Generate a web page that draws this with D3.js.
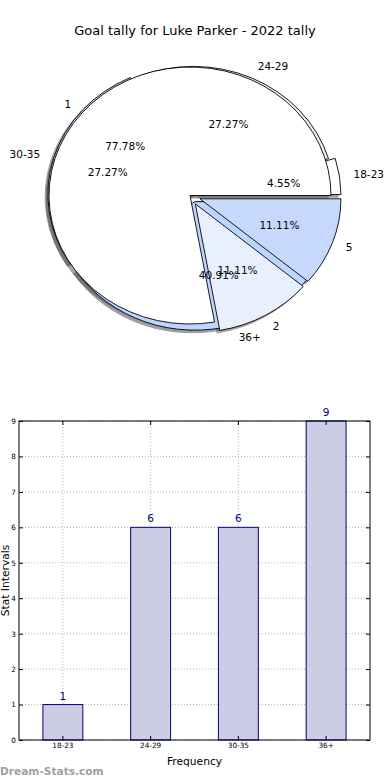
<!DOCTYPE html>
<html><head><meta charset="utf-8">
<script src="https://cdn.jsdelivr.net/npm/d3@7"></script>
<style>
body{margin:0;background:#fff}
svg{display:block}
text{font-family:"DejaVu Sans",sans-serif}
</style>
</head><body>
<svg id="c" width="390" height="780"></svg>
<script>
// ---------- data ----------
const chartTitle = "Goal tally for Luke Parker - 2022 tally";
const ageGroups = ["18-23", "24-29", "30-35", "36+"];
const ageCounts = [1, 6, 6, 9];
const goalLabels = ["1", "2", "5"];
const goalCounts = [7, 1, 1];
const ageExplode = [0.05, 0.005, 0.03, 0.05];
const goalExplode = [0, 0.075, 0.075];
const sliceColors = ["#ffffff", "#e9f0fd", "#c6d9fd", "#bcd6ff"];
const yTicks = [0, 1, 2, 3, 4, 5, 6, 7, 8, 9];
const xAxisLabel = "Frequency";
const yAxisLabel = "Stat Intervals";
const watermark = "Dream-Stats.com";

const svg = d3.select("#c");

// ---------- title ----------
svg.append("text").attr("x", 195).attr("y", 30).attr("dy", "0.35em")
  .attr("text-anchor", "middle").attr("font-size", 13).attr("fill", "#000")
  .text(chartTitle);

// ---------- pies ----------
const rx = 141, ry = 128.5;
const innerC = {x: 190, y: 195.5};
const outerC = {x: 193, y: 195.5};
const pieGen = d3.pie().sort(null).value(d => d)
  .startAngle(Math.PI / 2).endAngle(Math.PI / 2 - 2 * Math.PI);
const unitArc = d3.arc().innerRadius(0).outerRadius(1);

function buildPie(labels, counts, explode, center) {
  const total = d3.sum(counts);
  return pieGen(counts).map((a, i) => {
    const mid = (a.startAngle + a.endAngle) / 2;
    const e = explode[i];
    return {
      arc: a, label: labels[i], pct: (counts[i] / total * 100).toFixed(2) + "%",
      color: sliceColors[i % sliceColors.length],
      sx: Math.sin(mid), cy: Math.cos(mid), e: e,
      ox: center.x + e * Math.sin(mid) * rx,
      oy: center.y - e * Math.cos(mid) * ry,
      center: center
    };
  });
}
const outer = buildPie(ageGroups, ageCounts, ageExplode, outerC);
const inner = buildPie(goalLabels, goalCounts, goalExplode, innerC);

const gPie = svg.append("g");
function drawShadows(slices) {
  slices.forEach(s => {
    const c = d3.rgb(s.color);
    const sc = d3.rgb(c.r * 0.3, c.g * 0.3, c.b * 0.3);
    gPie.append("path").attr("d", unitArc(s.arc))
      .attr("transform", `translate(${s.ox - 0.02 * rx},${s.oy + 0.02 * ry}) scale(${rx},${ry})`)
      .attr("fill", sc).attr("stroke", sc).attr("stroke-width", 1)
      .attr("vector-effect", "non-scaling-stroke").attr("opacity", 0.5);
  });
}
function drawWedges(slices) {
  slices.forEach(s => {
    gPie.append("path").attr("d", unitArc(s.arc))
      .attr("transform", `translate(${s.ox},${s.oy}) scale(${rx},${ry})`)
      .attr("fill", s.color).attr("stroke", "#000").attr("stroke-width", 0.9)
      .attr("stroke-linejoin", "miter")
      .attr("vector-effect", "non-scaling-stroke");
  });
}
function drawTexts(slices) {
  slices.forEach(s => {
    const lr = 1.1 + s.e, pr = 0.6 + s.e;
    gPie.append("text")
      .attr("x", s.center.x + lr * s.sx * rx).attr("y", s.center.y - lr * s.cy * ry)
      .attr("dy", "0.35em").attr("font-size", 10.5)
      .attr("text-anchor", s.sx > 0 ? "start" : "end").text(s.label);
    gPie.append("text")
      .attr("x", s.center.x + pr * s.sx * rx).attr("y", s.center.y - pr * s.cy * ry)
      .attr("dy", "0.35em").attr("font-size", 10.5)
      .attr("text-anchor", "middle").text(s.pct);
  });
}
drawShadows(outer); drawShadows(inner);
drawWedges(outer); drawWedges(inner);
drawTexts(outer); drawTexts(inner);

// ---------- bar chart ----------
const L = 19, R = 370, T = 421, B = 740;
const x = d3.scaleBand().domain(ageGroups).range([L, R]);
const y = d3.scaleLinear().domain([0, 9]).range([B, T]);
const gBar = svg.append("g");

// grid
gBar.selectAll(".vg").data(ageGroups).enter().append("line")
  .attr("x1", d => x(d) + x.bandwidth() / 2).attr("x2", d => x(d) + x.bandwidth() / 2)
  .attr("y1", T).attr("y2", B)
  .attr("stroke", "#b4b4b4").attr("stroke-width", 1).attr("stroke-dasharray", "1,2");
gBar.selectAll(".hg").data(yTicks).enter().append("line")
  .attr("x1", L).attr("x2", R).attr("y1", d => y(d)).attr("y2", d => y(d))
  .attr("stroke", "#b4b4b4").attr("stroke-width", 1).attr("stroke-dasharray", "1,2");

// bars
const bw = x.bandwidth() * 0.455;
gBar.selectAll(".bar").data(ageCounts).enter().append("rect")
  .attr("x", (d, i) => x(ageGroups[i]) + x.bandwidth() / 2 - bw / 2)
  .attr("y", d => y(d)).attr("width", bw).attr("height", d => B - y(d))
  .attr("fill", "#ccccE4").attr("stroke", "#000080").attr("stroke-width", 1);
gBar.selectAll(".val").data(ageCounts).enter().append("text")
  .attr("x", (d, i) => x(ageGroups[i]) + x.bandwidth() / 2)
  .attr("y", d => y(d) - 5).attr("text-anchor", "middle")
  .attr("font-size", 10.5).attr("fill", "#000080").text(d => d);

// axes
const fmtAxis = g => {
  g.select(".domain").remove();
  g.selectAll("text").attr("font-size", 7.3).attr("fill", "#000")
    .attr("font-family", '"DejaVu Sans",sans-serif');
  g.selectAll("line").attr("stroke", "#000");
};
gBar.append("g").attr("transform", `translate(${L},0)`)
  .call(d3.axisLeft(y).tickValues(yTicks).tickSizeInner(-4).tickSizeOuter(0).tickPadding(3))
  .call(fmtAxis);
gBar.append("g").attr("transform", `translate(${R},0)`)
  .call(d3.axisRight(y).tickValues(yTicks).tickSizeInner(-4).tickSizeOuter(0).tickFormat(""))
  .call(fmtAxis);
gBar.append("g").attr("transform", `translate(0,${B})`)
  .call(d3.axisBottom(x).tickSizeInner(-4).tickSizeOuter(0).tickPadding(3))
  .call(fmtAxis);
gBar.append("g").attr("transform", `translate(0,${T})`)
  .call(d3.axisTop(x).tickSizeInner(-4).tickSizeOuter(0).tickFormat(""))
  .call(fmtAxis);
gBar.append("rect").attr("x", L).attr("y", T).attr("width", R - L).attr("height", B - T)
  .attr("fill", "none").attr("stroke", "#000").attr("stroke-width", 1);

// axis labels
svg.append("text").attr("x", (L + R) / 2).attr("y", 761).attr("dy", "0.35em")
  .attr("text-anchor", "middle").attr("font-size", 10.7).text(xAxisLabel);
svg.append("text").attr("transform", `translate(5,${(T + B) / 2}) rotate(-90)`)
  .attr("dy", "0.35em").attr("text-anchor", "middle").attr("font-size", 10.7).text(yAxisLabel);

// watermark
svg.append("text").attr("x", 0).attr("y", 771).attr("dy", "0.35em")
  .attr("font-size", 10.6).attr("font-weight", "bold").attr("fill", "#a0a0a0").text(watermark);
</script>
</body></html>
